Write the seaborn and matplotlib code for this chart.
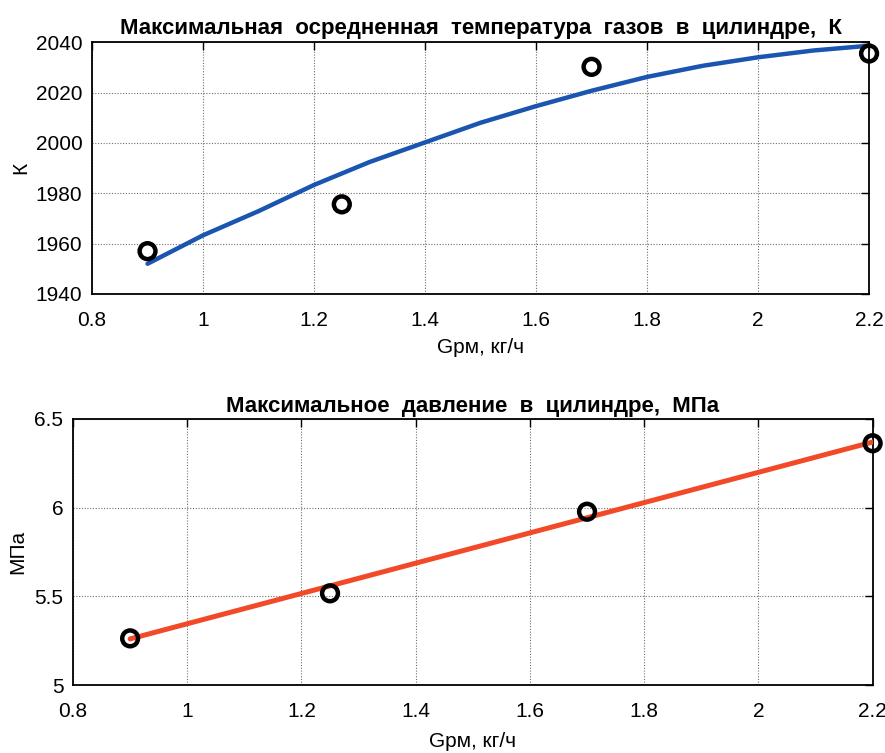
import numpy as np
import pandas as pd
import matplotlib
matplotlib.use("Agg")
import matplotlib.pyplot as plt
import seaborn as sns

# ---- data ----
g_points = [0.9, 1.25, 1.7, 2.2]
temp_points = [1957, 1975.6, 2030.2, 2035.5]
g_curve = [0.9, 1.0, 1.1, 1.2, 1.3, 1.4, 1.5, 1.6, 1.7, 1.8, 1.9, 2.0, 2.1, 2.2]
temp_curve = [1952, 1963.3, 1972.9, 1983.3, 1992.4, 2000.2, 2008.0, 2014.6,
              2020.7, 2026.2, 2030.6, 2034.0, 2036.7, 2038.6]

press_points = [5.263, 5.517, 5.977, 6.363]
g_line = [0.9, 2.2]
press_line = [5.26, 6.37]

title_top = "Максимальная  осредненная  температура  газов  в  цилиндре,  К"
title_bot = "Максимальное  давление  в  цилиндре,  МПа"
xlabel = "Gрм, кг/ч"
ylabel_top = "К"
ylabel_bot = "МПа"
xticks = [0.8, 1.0, 1.2, 1.4, 1.6, 1.8, 2.0, 2.2]
xtick_labels = ["0.8", "1", "1.2", "1.4", "1.6", "1.8", "2", "2.2"]
yticks_top = [1940, 1960, 1980, 2000, 2020, 2040]
yticks_bot = [5.0, 5.5, 6.0, 6.5]
ytick_labels_bot = ["5", "5.5", "6", "6.5"]

sns.set_theme(style="white")
plt.rcParams['font.family'] = ['Liberation Sans', 'DejaVu Sans']
plt.rcParams['text.color'] = 'black'
plt.rcParams['axes.labelcolor'] = 'black'
plt.rcParams['xtick.color'] = 'black'
plt.rcParams['ytick.color'] = 'black'

fig = plt.figure(figsize=(8.85, 7.53), dpi=100)
ax1 = fig.add_axes([0.104, 0.6096, 0.878, 0.3344])
ax2 = fig.add_axes([0.0825, 0.0903, 0.9035, 0.3533])

def style(ax):
    ax.grid(True, color="#707070", linestyle=(0, (1, 1.5)), linewidth=0.8)
    ax.set_axisbelow(True)
    for s in ax.spines.values():
        s.set_color("black")
        s.set_linewidth(1.3)
    ax.tick_params(direction="in", length=6, width=1, colors="black",
                   labelcolor="black", top=True, right=True, labelsize=15)
    ax.tick_params(axis="x", pad=12)
    ax.tick_params(axis="y", pad=7)

df1c = pd.DataFrame({"g": g_curve, "t": temp_curve})
df1p = pd.DataFrame({"g": g_points, "t": temp_points})
sns.lineplot(data=df1c, x="g", y="t", ax=ax1, color="#1a55b0", linewidth=3.2, zorder=3)
sns.scatterplot(data=df1p, x="g", y="t", ax=ax1, marker="o", s=130,
                facecolor="none", edgecolor="black", linewidth=3.2, zorder=4, clip_on=False)
ax1.set_xlim(0.8, 2.2)
ax1.set_ylim(1940, 2040)
ax1.set_xticks(xticks)
ax1.set_xticklabels(xtick_labels)
ax1.set_yticks(yticks_top)
ax1.set_title(title_top, fontsize=16, fontweight="bold", pad=6, color="black")
ax1.set_xlabel(xlabel, fontsize=15, labelpad=6, color="black")
ax1.set_ylabel(ylabel_top, fontsize=15, labelpad=4, color="black")
style(ax1)

df2l = pd.DataFrame({"g": g_line, "p": press_line})
df2p = pd.DataFrame({"g": g_points, "p": press_points})
sns.lineplot(data=df2l, x="g", y="p", ax=ax2, color="#f24a28", linewidth=3.6, zorder=3)
sns.scatterplot(data=df2p, x="g", y="p", ax=ax2, marker="o", s=130,
                facecolor="none", edgecolor="black", linewidth=3.2, zorder=4, clip_on=False)
ax2.set_xlim(0.8, 2.2)
ax2.set_ylim(5.0, 6.5)
ax2.set_xticks(xticks)
ax2.set_xticklabels(xtick_labels)
ax2.set_yticks(yticks_bot)
ax2.set_yticklabels(ytick_labels_bot)
ax2.set_title(title_bot, fontsize=16, fontweight="bold", pad=5, color="black")
ax2.set_xlabel(xlabel, fontsize=15, labelpad=8, color="black")
ax2.set_ylabel(ylabel_bot, fontsize=15, labelpad=5, color="black")
style(ax2)

fig.savefig("out.png", dpi=100, facecolor="white")
